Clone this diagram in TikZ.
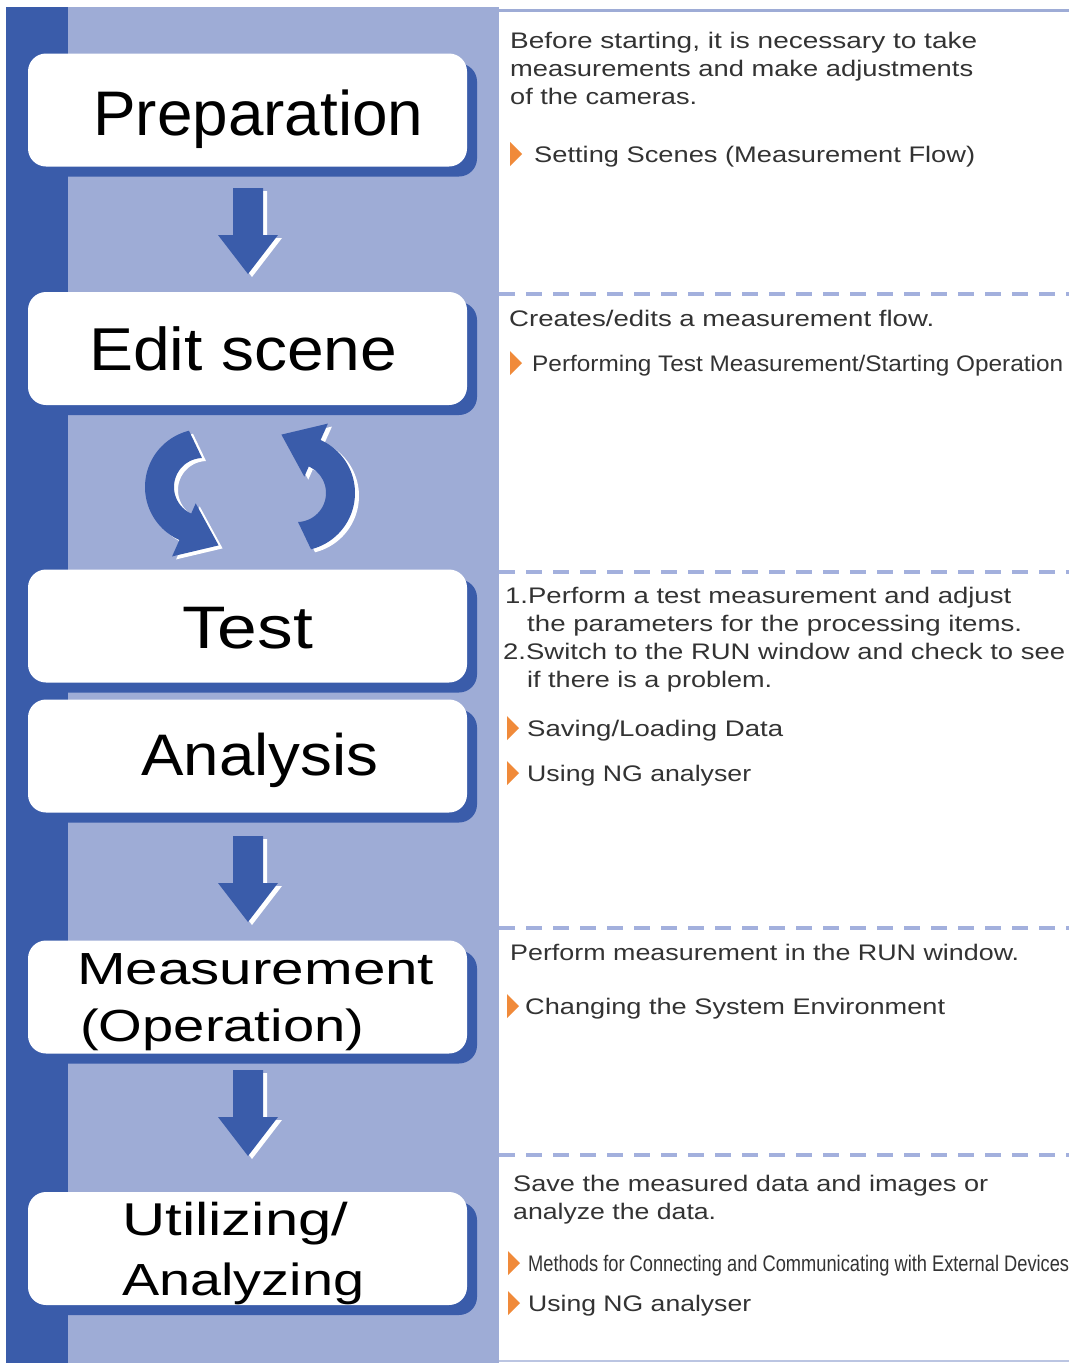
\documentclass[tikz,border=0pt]{standalone}
\usepackage{fontspec}
\setmainfont{Liberation Sans}
\usepackage{graphicx}
\usetikzlibrary{shadows}
\definecolor{dblue}{HTML}{3A5CAA}
\definecolor{lblue}{HTML}{9EACD6}
\definecolor{dashblue}{HTML}{A3B0DD}
\definecolor{borange}{HTML}{F08A3A}
\definecolor{tgray}{HTML}{333333}
\newcommand\fitw[2]{\resizebox{#1pt}{\height}{#2}}
\newcommand\bfont[1]{\fontsize{#1}{#1}\selectfont}
\newcommand\blockdown[2]{%
  \begin{scope}[shift={(#1,#2)}]
    \fill[white,shift={(4,3)}] (-15,0) -- (15,0) -- (15,47) -- (30,47) -- (0,86) -- (-30,47) -- (-15,47) -- cycle;
    \fill[dblue] (-15,0) -- (15,0) -- (15,47) -- (30,47) -- (0,86) -- (-30,47) -- (-15,47) -- cycle;
  \end{scope}}
\newcommand\circpath[1]{%
  \fill[#1] plot[domain=256:114,samples=50] ({58*cos(\x)},{58*sin(\x)}) -- (-30.9,69.4) -- (15.6,58.4) -- (-7.3,16.4)
     -- plot[domain=114:268,samples=50] ({29*cos(\x)},{29*sin(\x)}) -- cycle;}
\newcommand\bullettri[2]{\fill[borange] (#1,#2-20) -- (#1,#2+4) -- (#1+12,#2-8) -- cycle;}
\begin{document}
\begin{tikzpicture}[x=1pt,y=-1pt,
  stepbox/.style={fill=white, rounded corners=18pt, minimum width=439pt, minimum height=113pt, inner sep=0pt,
    general shadow={fill=dblue, shadow xshift=10pt, shadow yshift=-10pt}},
  lbl/.style={anchor=base west, inner sep=0pt, text=black},
  desc/.style={anchor=base west, inner sep=0pt, text=tgray, font=\bfont{22.5}},
  dashsep/.style={draw=dashblue, line width=4pt, dash pattern=on 16pt off 11pt},
]
\useasboundingbox (0,0) rectangle (1069,1363);
\fill[white] (0,0) rectangle (1069,1363);
% panels
\fill[lblue] (68,7) rectangle (499,1363);
\fill[dblue] (6,7) rectangle (68,1363);
\draw[lblue, line width=3pt] (497,10) -- (1069,10);
\draw[lblue!70, line width=1.5pt] (499,1361) -- (1069,1361);

% step boxes
\node[stepbox] (prep) at (247.5,110) {};
\node[stepbox] (edit) at (247.5,348.5) {};
\node[stepbox] (test) at (247.5,626) {};
\node[stepbox] (anal) at (247.5,756) {};
\node[stepbox] (meas) at (247.5,997) {};
\node[stepbox] (util) at (247.5,1248.5) {};

% box labels
\node[lbl, font=\bfont{63}] (tprep) at (93,135) {\fitw{330}{Preparation}};
\node[lbl, font=\bfont{60.5}] (tedit) at (89,370) {\fitw{308}{Edit scene}};
\node[lbl, font=\bfont{60}] (ttest) at (182,648) {\fitw{131}{Test}};
\node[lbl, font=\bfont{58.6}] (tanal) at (141,775) {\fitw{237}{Analysis}};
\node[lbl, font=\bfont{45}] (tmeas1) at (77,984) {\fitw{357}{Measurement}};
\node[lbl, font=\bfont{45}] (tmeas2) at (80,1041) {\fitw{284}{(Operation)}};
\node[lbl, font=\bfont{46}] (tutil1) at (122,1235) {\fitw{226}{Utilizing/}};
\node[lbl, font=\bfont{45}] (tutil2) at (122,1295) {\fitw{242}{Analyzing}};

% block arrows
\blockdown{248}{188}
\blockdown{248}{836}
\blockdown{248}{1070}

% circular arrows
\begin{scope}[shift={(207,490)}] \circpath{white} \end{scope}
\begin{scope}[shift={(203,487)}] \circpath{dblue} \end{scope}
\begin{scope}[shift={(301,496)}, rotate=180] \circpath{white} \end{scope}
\begin{scope}[shift={(297,493)}, rotate=180] \circpath{dblue} \end{scope}

% section separators
\draw[dashsep] (499,294) -- (1069,294);
\draw[dashsep] (499,572) -- (1069,572);
\draw[dashsep] (499,928) -- (1069,928);
\draw[dashsep] (499,1155) -- (1069,1155);

% section 1
\node[desc] (s1a) at (510,48) {\fitw{467}{Before starting, it is necessary to take}};
\node[desc] (s1b) at (510,76) {\fitw{463}{measurements and make adjustments}};
\node[desc] (s1c) at (510,104) {\fitw{187}{of the cameras.}};
\bullettri{510}{162}
\node[desc] (s1d) at (534,162) {\fitw{441}{Setting Scenes (Measurement Flow)}};

% section 2
\node[desc] (s2a) at (509,326) {\fitw{425}{Creates/edits a measurement flow.}};
\bullettri{510}{371}
\node[desc] (s2b) at (532,371) {\fitw{531}{Performing Test Measurement/Starting Operation}};

% section 3
\node[desc] (s3a) at (505,603) {\fitw{506}{1.Perform a test measurement and adjust}};
\node[desc] (s3b) at (527,631) {\fitw{495}{the parameters for the processing items.}};
\node[desc] (s3c) at (503,659) {\fitw{562}{2.Switch to the RUN window and check to see}};
\node[desc] (s3d) at (527,687) {\fitw{245}{if there is a problem.}};
\bullettri{507}{736}
\node[desc] (s3e) at (527,736) {\fitw{256}{Saving/Loading Data}};
\bullettri{507}{781}
\node[desc] (s3f) at (527,781) {\fitw{224}{Using NG analyser}};

% section 4
\node[desc] (s4a) at (510,960) {\fitw{509}{Perform measurement in the RUN window.}};
\bullettri{507}{1014}
\node[desc] (s4b) at (525,1014) {\fitw{420}{Changing the System Environment}};

% section 5
\node[desc] (s5a) at (513,1191) {\fitw{475}{Save the measured data and images or}};
\node[desc] (s5b) at (513,1219) {\fitw{203}{analyze the data.}};
\bullettri{508}{1271}
\node[desc] (s5c) at (528,1271) {\fitw{541}{Methods for Connecting and Communicating with External Devices}};
\bullettri{508}{1311}
\node[desc] (s5d) at (528,1311) {\fitw{223}{Using NG analyser}};
\end{tikzpicture}
\end{document}
